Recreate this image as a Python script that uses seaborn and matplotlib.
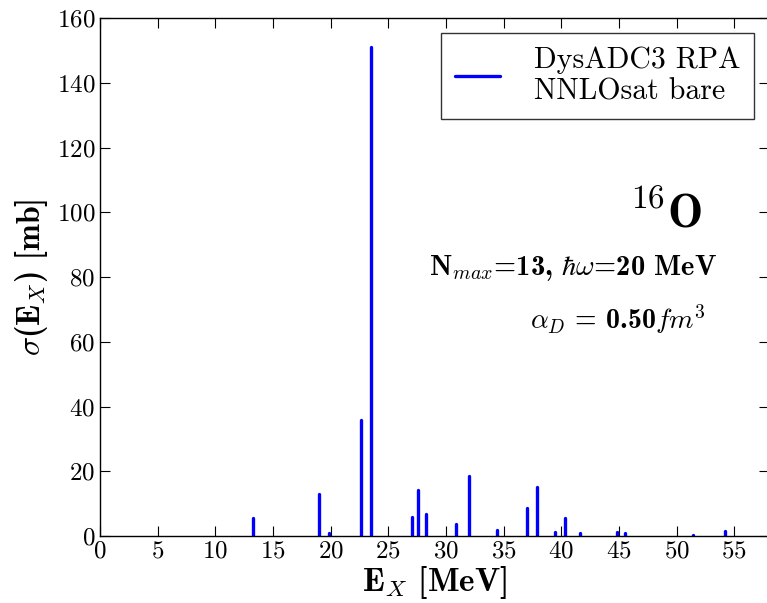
import numpy as np
import pandas as pd
import seaborn as sns
import matplotlib
matplotlib.use("Agg")
import matplotlib.pyplot as plt
from matplotlib.lines import Line2D

# Data: excitation energies (MeV) and cross sections (mb)
energies = [13.3, 19.0, 19.9, 22.65, 23.5, 27.06, 27.6, 28.3, 30.9, 32.0,
            34.4, 37.06, 37.9, 39.5, 40.3, 41.6, 44.87, 45.5, 51.45, 54.2]
strengths = [5.5, 13.0, 0.8, 35.7, 151.2, 5.8, 14.1, 6.7, 3.6, 18.5,
             1.85, 8.5, 15.1, 1.2, 5.6, 0.9, 1.3, 1.0, 0.2, 1.4]
xticks = [0, 5, 10, 15, 20, 25, 30, 35, 40, 45, 50, 55]
yticks = [0, 20, 40, 60, 80, 100, 120, 140, 160]
legend_label = "DysADC3 RPA\nNNLOsat bare"

sns.set_style("ticks")
plt.rcParams.update({
    "font.family": "cmr10",
    "mathtext.fontset": "cm",
    "axes.formatter.use_mathtext": True,
    "axes.unicode_minus": False,
    "xtick.direction": "in",
    "ytick.direction": "in",
    "xtick.top": True,
    "ytick.right": True,
    "xtick.major.size": 7,
    "ytick.major.size": 7,
    "axes.linewidth": 1.0,
    "axes.edgecolor": "black",
    "text.color": "black",
    "axes.labelcolor": "black",
    "xtick.color": "black",
    "ytick.color": "black",
})

# Build stick segments from the data
rows = []
for i, (e, s) in enumerate(zip(energies, strengths)):
    rows.append({"id": i, "E": e, "s": 0.0})
    rows.append({"id": i, "E": e, "s": s})
df = pd.DataFrame(rows)

fig = plt.figure(figsize=(7.67, 6.03), dpi=100)
ax = fig.add_axes([0.1304, 0.1111, 0.8719, 0.859])

sns.lineplot(data=df, x="E", y="s", units="id", estimator=None,
             color="blue", lw=2.4, ax=ax, sort=False)

ax.set_xlim(0, 58)
ax.set_ylim(0, 160)
ax.set_xticks(xticks)
ax.set_yticks(yticks)
ax.tick_params(labelsize=18, colors="black", width=0.8)

ax.set_xlabel(r"E$_X$ [MeV]", fontfamily="cmb10", fontsize=24, labelpad=0)
ax.set_ylabel(r"$\sigma$(E$_X$) [mb]", fontfamily="cmb10", fontsize=23, labelpad=5)

handle = Line2D([0], [0], color="blue", lw=2.4)
leg = ax.legend([handle], [legend_label], loc="upper right", fontsize=21.5,
                frameon=True, fancybox=False, handlelength=1.5,
                handletextpad=1.15, borderaxespad=0.5, borderpad=0.45)
leg.get_frame().set_edgecolor("black")
leg.get_frame().set_linewidth(1.0)
for t in leg.get_texts():
    t.set_color("black")

ax.text(0.900, 0.597, r"$^{16}$O", transform=ax.transAxes, ha="right",
        va="baseline", fontfamily="cmb10", fontsize=34, color="black")
ax.text(0.922, 0.503, r"N$_{max}$=13, $\hbar\omega$=20 MeV", transform=ax.transAxes,
        ha="right", va="baseline", fontfamily="cmb10", fontsize=20.5, color="black")
ax.text(0.905, 0.400, r"$\alpha_D$ = 0.50$fm^3$", transform=ax.transAxes,
        ha="right", va="baseline", fontfamily="cmb10", fontsize=20, color="black")

fig.savefig("out.png", dpi=100)
